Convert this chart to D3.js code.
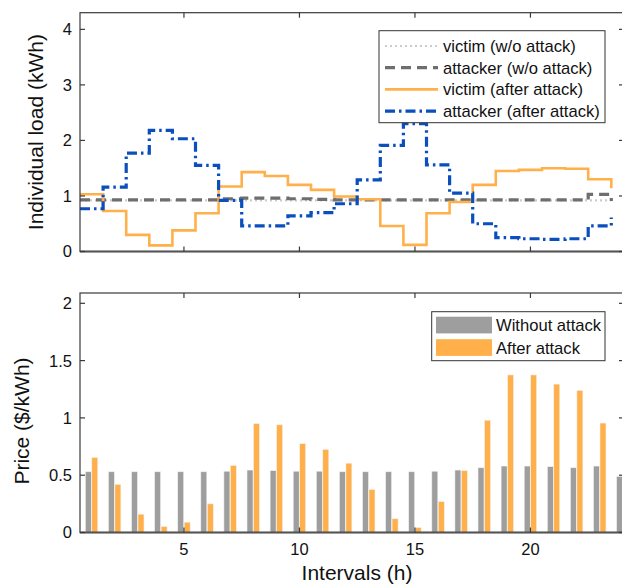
<!DOCTYPE html>
<html>
<head>
<meta charset="utf-8">
<script src="https://cdn.jsdelivr.net/npm/d3@7"></script>
<style>
  body { margin: 0; background: #fff; }
  svg { display: block; font-family: "Liberation Sans", Arial, Helvetica, sans-serif; }
</style>
</head>
<body>
<div id="chart"></div>
<script>
// intervals 1..24
var intervals = d3.range(1, 25);

// individual load (kWh)
var victimNoAttack   = [0.92,0.92,0.92,0.92,0.92,0.92,0.92,0.92,0.92,0.92,0.92,0.92,0.92,0.92,0.92,0.92,0.92,0.92,0.92,0.92,0.92,0.92,0.92,0.92];
var attackerNoAttack = [0.93,0.93,0.93,0.93,0.93,0.93,0.95,0.96,0.96,0.95,0.94,0.93,0.93,0.93,0.93,0.93,0.93,0.93,0.93,0.93,0.93,0.93,1.03,0.91];
var victimAttack     = [1.03,0.73,0.30,0.11,0.38,0.69,1.17,1.43,1.36,1.20,1.11,0.99,0.94,0.46,0.12,0.69,0.89,1.20,1.45,1.47,1.50,1.49,1.30,1.14];
var attackerAttack   = [0.77,1.16,1.77,2.18,2.03,1.55,0.92,0.46,0.46,0.64,0.70,0.86,1.29,1.91,2.30,1.56,1.05,0.50,0.25,0.23,0.22,0.23,0.46,0.61];

// price ($/kWh)
var priceNoAttack = [0.53,0.53,0.53,0.53,0.53,0.53,0.535,0.545,0.54,0.535,0.535,0.53,0.53,0.53,0.53,0.535,0.545,0.565,0.58,0.58,0.575,0.565,0.58,0.49];
var priceAttack   = [0.655,0.42,0.16,0.053,0.09,0.25,0.585,0.95,0.94,0.775,0.725,0.605,0.375,0.12,0.044,0.27,0.54,0.98,1.375,1.375,1.295,1.24,0.955,0.75];

var xTicks = [5, 10, 15, 20];
var loadTicks = [0, 1, 2, 3, 4];
var priceTicks = [0, 0.5, 1, 1.5, 2];

var lineSeries = [
    { name: "victim (w/o attack)", values: victimNoAttack, color: "#cbcbcb", width: 2.2, dash: "2,3" },
    { name: "attacker (w/o attack)", values: attackerNoAttack, color: "#6e6e6e", width: 3.2, dash: "10,6" },
    { name: "victim (after attack)", values: victimAttack, color: "#ffb04a", width: 2.6, dash: null },
    { name: "attacker (after attack)", values: attackerAttack, color: "#0a4fbd", width: 3.2, dash: "10,4,2.5,4" }
];
var barSeries = [
    { name: "Without attack", values: priceNoAttack, color: "#9e9e9e", off: -0.27 },
    { name: "After attack", values: priceAttack, color: "#ffb04a", off: 0.01 }
];

var W = 622, H = 584;
var svg = d3.select("#chart").append("svg")
    .attr("width", W)
    .attr("height", H);

var x = d3.scaleLinear().domain([0.5, 24.05]).range([80, 624]);
var y1 = d3.scaleLinear().domain([0, 4.3]).range([251.5, 12.7]);
var y2 = d3.scaleLinear().domain([0, 2.09]).range([532.5, 293]);

var axisColor = "#3a3a3a";
var tickLen = 5;
var tickFont = 16.5;

function drawFrame(y, yTicks, yFmt, showX) {
    var g = svg.append("g");
    var x0 = x.range()[0], x1 = x.range()[1];
    var yb = y.range()[0], yt = y.range()[1];
    g.append("rect")
        .attr("x", x0).attr("y", yt)
        .attr("width", x1 - x0).attr("height", yb - yt)
        .attr("fill", "none")
        .attr("stroke", axisColor)
        .attr("stroke-width", 1.2);
    // bottom line a little heavier
    g.append("line")
        .attr("x1", x0).attr("x2", x1)
        .attr("y1", yb).attr("y2", yb)
        .attr("stroke", "#555").attr("stroke-width", 2);

    xTicks.forEach(function (t) {
        g.append("line").attr("x1", x(t)).attr("x2", x(t)).attr("y1", yb).attr("y2", yb - tickLen)
            .attr("stroke", axisColor).attr("stroke-width", 1.2);
        g.append("line").attr("x1", x(t)).attr("x2", x(t)).attr("y1", yt).attr("y2", yt + tickLen)
            .attr("stroke", axisColor).attr("stroke-width", 1.2);
        if (showX) {
            g.append("text").attr("x", x(t)).attr("y", yb + 22)
                .attr("text-anchor", "middle").attr("font-size", tickFont).attr("fill", "#111")
                .text(t);
        }
    });
    yTicks.forEach(function (t) {
        g.append("line").attr("x1", x0).attr("x2", x0 + tickLen).attr("y1", y(t)).attr("y2", y(t))
            .attr("stroke", axisColor).attr("stroke-width", 1.2);
        g.append("line").attr("x1", x1).attr("x2", x1 - tickLen).attr("y1", y(t)).attr("y2", y(t))
            .attr("stroke", axisColor).attr("stroke-width", 1.2);
        g.append("text").attr("x", x0 - 8).attr("y", y(t)).attr("dy", "0.36em")
            .attr("text-anchor", "end").attr("font-size", tickFont).attr("fill", "#111")
            .text(yFmt(t));
    });
    return g;
}

// ---- top: load step lines
var line = d3.line()
    .curve(d3.curveStepAfter)
    .x(function (d) { return x(d.i - 0.5); })
    .y(function (d) { return y1(d.v); });

var loadG = svg.append("g");
lineSeries.forEach(function (s) {
    var pts = intervals.map(function (i, k) { return { i: i, v: s.values[k] }; });
    loadG.append("path")
        .datum(pts)
        .attr("fill", "none")
        .attr("stroke", s.color)
        .attr("stroke-width", s.width)
        .attr("stroke-dasharray", s.dash)
        .attr("d", line);
});
drawFrame(y1, loadTicks, d3.format("d"), false);

// legend top
var lg = svg.append("g");
lg.append("rect").attr("x", 379).attr("y", 30.7).attr("width", 226).attr("height", 92)
    .attr("fill", "#fff").attr("stroke", "#333").attr("stroke-width", 1);
lineSeries.forEach(function (s, k) {
    var yy = 46 + k * 21.7;
    lg.append("line").attr("x1", 385).attr("x2", 438).attr("y1", yy).attr("y2", yy)
        .attr("stroke", s.color).attr("stroke-width", s.width)
        .attr("stroke-dasharray", s.dash);
    lg.append("text").attr("x", 443).attr("y", yy).attr("dy", "0.36em")
        .attr("font-size", 16.6).attr("fill", "#111").text(s.name);
});

// ---- bottom: price bars
var barG = svg.append("g");
barSeries.forEach(function (s) {
    barG.selectAll(null)
        .data(intervals)
        .enter().append("rect")
        .attr("x", function (i) { return x(i + s.off); })
        .attr("width", function (i) { return x(i + s.off + 0.26) - x(i + s.off); })
        .attr("y", function (i, k) { return y2(s.values[k]); })
        .attr("height", function (i, k) { return y2(0) - y2(s.values[k]); })
        .attr("fill", s.color)
        .attr("stroke", "#f2f2f2")
        .attr("stroke-width", 0.6);
});
drawFrame(y2, priceTicks, function (t) { return t === 0 ? "0" : d3.format("")(t); }, true);

// legend bottom
var lb = svg.append("g");
lb.append("rect").attr("x", 431.7).attr("y", 311.7).attr("width", 173.3).attr("height", 49)
    .attr("fill", "#fff").attr("stroke", "#333").attr("stroke-width", 1);
barSeries.forEach(function (s, k) {
    var yy = 316.7 + k * 22.5;
    lb.append("rect").attr("x", 436).attr("y", yy).attr("width", 56).attr("height", 16.7)
        .attr("fill", s.color);
    lb.append("text").attr("x", 496).attr("y", yy + 8.4).attr("dy", "0.36em")
        .attr("font-size", 16.6).attr("fill", "#111").text(s.name);
});

// axis labels
svg.append("text")
    .attr("transform", "translate(43," + ((y1.range()[0] + y1.range()[1]) / 2) + ") rotate(-90)")
    .attr("text-anchor", "middle").attr("font-size", 21).attr("fill", "#111")
    .text("Individual load (kWh)");
svg.append("text")
    .attr("transform", "translate(29,421) rotate(-90)")
    .attr("text-anchor", "middle").attr("font-size", 21).attr("fill", "#111")
    .text("Price ($/kWh)");
svg.append("text")
    .attr("x", 357).attr("y", 580)
    .attr("text-anchor", "middle").attr("font-size", 21).attr("fill", "#111")
    .text("Intervals (h)");
</script>
</body>
</html>
